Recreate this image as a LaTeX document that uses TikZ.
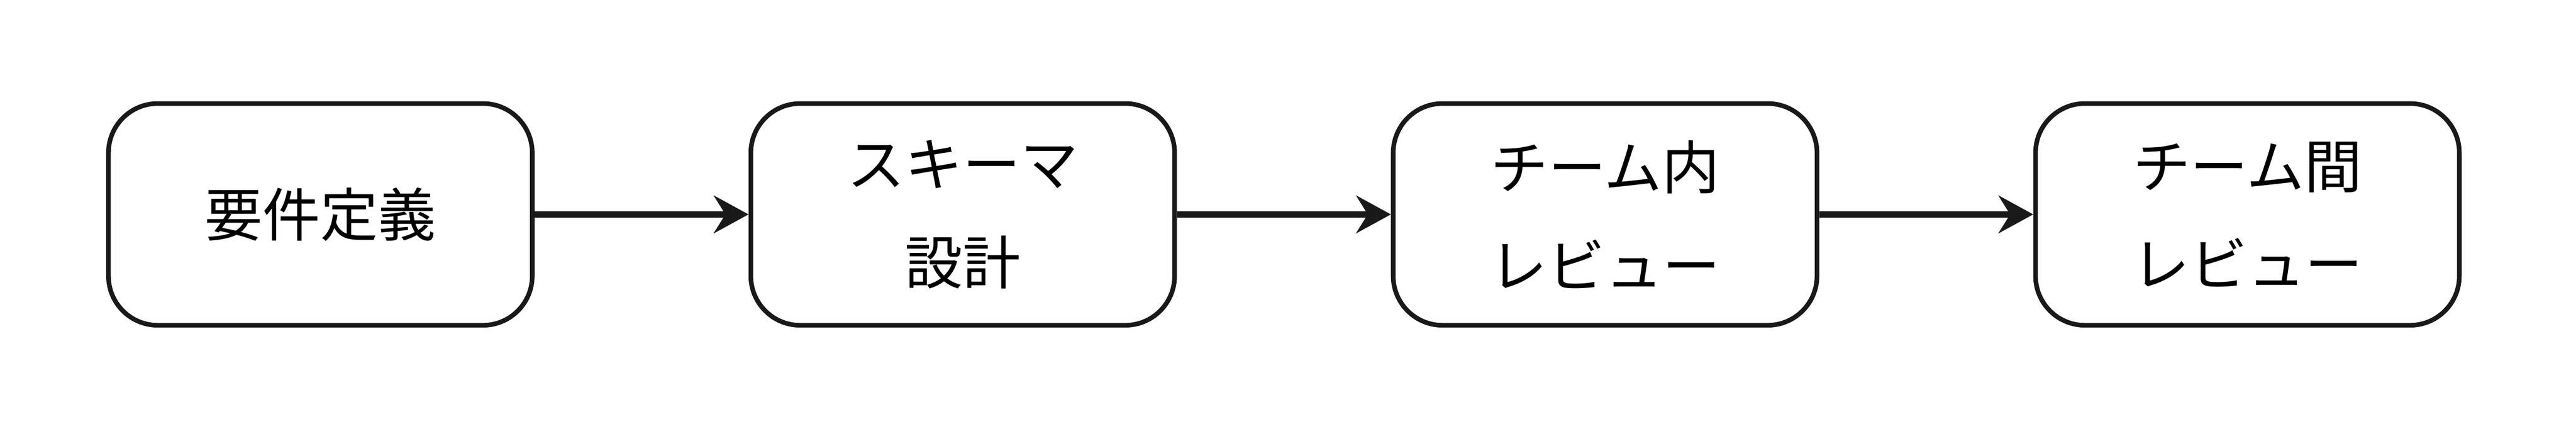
\documentclass[tikz,border=0pt]{standalone}
\usepackage{fontspec}
\newfontfamily\cjk{Noto Sans CJK JP}
\usetikzlibrary{positioning,arrows.meta}
\begin{document}
\begin{tikzpicture}[x=0.02cm,y=0.02cm,
	stepbox/.style={draw=black!90,line width=1.6pt,rounded corners=0.6cm,minimum width=5.16cm,minimum height=2.7cm,align=center,font=\cjk\fontsize{20}{34}\selectfont},
	flow/.style={draw=black!90,line width=2.2pt,-{Stealth[length=12pt,width=13pt,inset=4pt]}}]
	\useasboundingbox (0,0) rectangle (1568,261);
	\node[stepbox] (req) at (195,130.5) {要件定義};
	\node[stepbox] (schema) at (586,130.5) {スキーマ\\設計};
	\node[stepbox] (inrev) at (977,130.5) {チーム内\\レビュー};
	\node[stepbox] (xrev) at (1368,130.5) {チーム間\\レビュー};
	\draw[flow] (req) -- (schema);
	\draw[flow] (schema) -- (inrev);
	\draw[flow] (inrev) -- (xrev);
\end{tikzpicture}
\end{document}
